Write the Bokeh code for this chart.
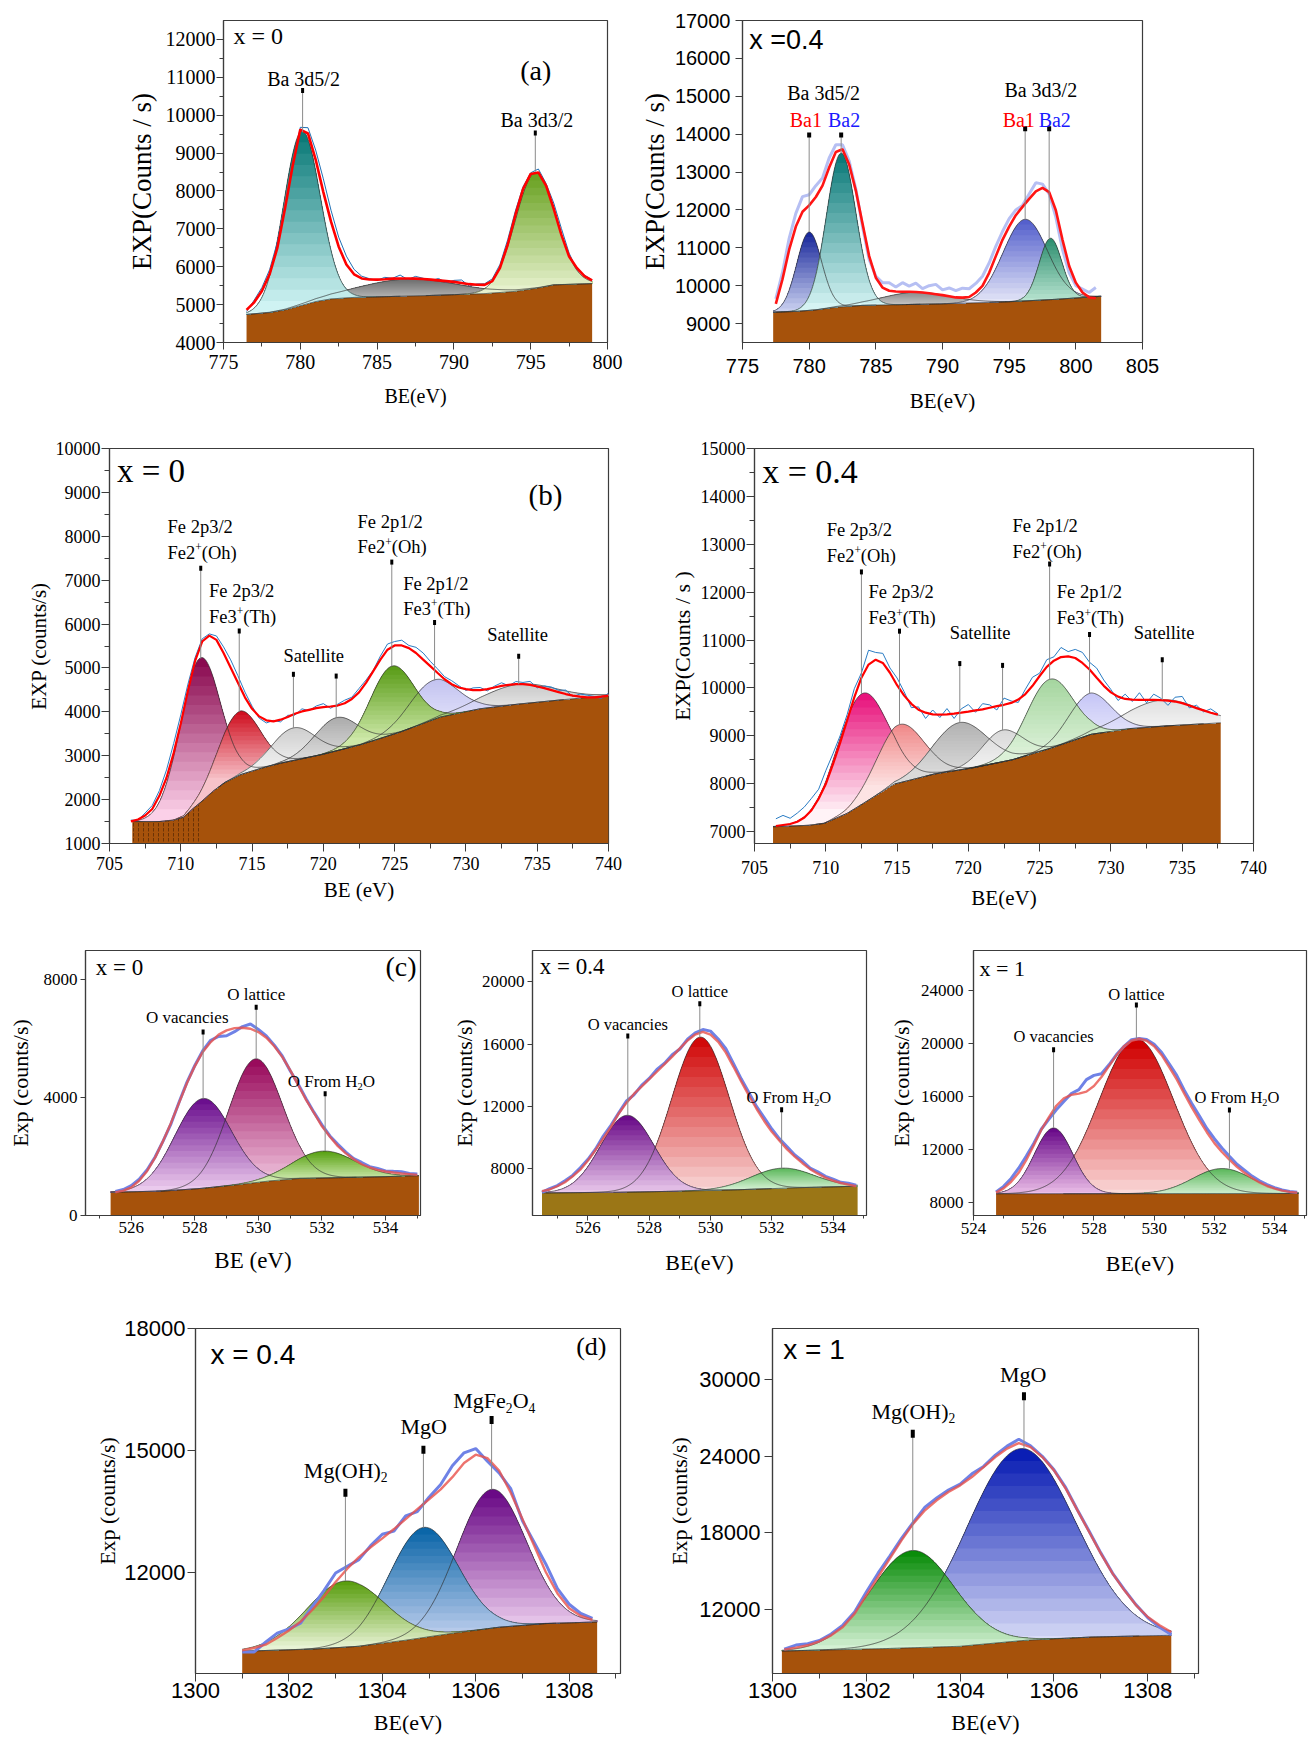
import numpy as np
from bokeh.plotting import figure
from bokeh.models import Range1d, Label, FixedTicker, ColumnDataSource
from bokeh.layouts import row, column
from bokeh.embed import file_html
from bokeh.resources import INLINE

SERIF = "Liberation Serif"
SANS = "Liberation Sans"
BROWN = "#a6520b"

# ======================= DATA =======================
# ---- (a) Ba 3d, x = 0 ----
A1_ENV_START, A1_ENV_STEP = 776.5, 0.5
A1_ENV = [4860, 5060, 5360, 5800, 6490, 7530, 8660, 9620, 9520, 8830, 7970, 7190, 6530, 6060, 5800,
          5690, 5665, 5660, 5670, 5685, 5690, 5690, 5685, 5675, 5660, 5640, 5620, 5600, 5570, 5540,
          5525, 5520, 5620, 5970, 6580, 7360, 8050, 8450, 8490, 8140, 7530, 6840, 6270, 5970, 5750, 5640]
A1_EXP_DEV = [-40, 60, 90, 120, 150, 100, 40, 60, 150, 250, 350, 300, 250, 220, 130, 60, 20, -20, 50, 10,
              90, -30, 60, 20, -30, 50, -40, 40, 80, -50, 20, 30, 60, 90, 130, 110, 60, 30, 90, 60,
              150, 170, 90, -40, 30, 10]
A1_BG_X = [776.5, 778, 779, 780, 781, 782, 783.5, 788, 792, 794, 795.5, 796.5, 799]
A1_BG_Y = [4740, 4790, 4860, 4970, 5080, 5150, 5190, 5235, 5290, 5350, 5440, 5520, 5555]
A1_PEAK_CENTER = [787.0, 780.1, 795.3]
A1_PEAK_HEIGHT = [450, 4600, 3050]
A1_PEAK_FWHM = [7.5, 2.8, 3.1]
A1_TICKS_X = [775, 780, 785, 790, 795, 800]
A1_TICKS_Y = [4000, 5000, 6000, 7000, 8000, 9000, 10000, 11000, 12000]

# ---- (a) Ba 3d, x = 0.4 ----
A2_ENV_START, A2_ENV_STEP = 777.5, 0.5
A2_ENV = [9520, 10170, 10950, 11560, 11950, 12120, 12340, 12640, 13120, 13530, 13600, 13200, 12510, 11640,
          10780, 10210, 9950, 9865, 9845, 9840, 9838, 9835, 9820, 9800, 9775, 9750, 9720, 9690, 9685, 9700,
          9820, 9995, 10340, 10780, 11210, 11560, 11860, 12080, 12290, 12490, 12580, 12470, 11990, 11210,
          10520, 10080, 9820, 9690, 9670]
A2_EXP_DEV = [130, 180, 300, 350, 400, 280, 300, 200, 250, 190, 120, 90, 40, -80, -90, 40, 130, 210, 120, 240,
              150, 230, 100, 200, 260, 140, 220, 180, 250, 220, 240, 255, 260, 260, 220, 210, 140, 40, 130, 230,
              100, -50, -180, -260, -180, -80, 90, 130, 280]
A2_BG_X = [777.3, 779, 780.5, 782, 784, 787, 790, 795, 798.5, 801.9]
A2_BG_Y = [9300, 9320, 9360, 9430, 9480, 9500, 9520, 9575, 9640, 9720]
A2_PEAK_CENTER = [788.0, 780.0, 782.4, 796.2, 798.1]
A2_PEAK_HEIGHT = [320, 2070, 4060, 2155, 1620]
A2_PEAK_FWHM = [6.0, 2.2, 2.6, 3.9, 2.0]
A2_TICKS_X = [775, 780, 785, 790, 795, 800, 805]
A2_TICKS_Y = [9000, 10000, 11000, 12000, 13000, 14000, 15000, 16000, 17000]

# ---- (b) Fe 2p, x = 0 ----
B1_ENV_START, B1_ENV_STEP = 706.5, 0.5
B1_ENV = [1503, 1547, 1637, 1787, 2086, 2498, 3059, 3732, 4480, 5153, 5602, 5736, 5639, 5340, 5003, 4667,
          4330, 4068, 3896, 3807, 3784, 3821, 3881, 3956, 4009, 4046, 4083, 4106, 4121, 4143, 4196, 4293,
          4442, 4667, 4928, 5190, 5415, 5512, 5512, 5452, 5340, 5190, 5041, 4891, 4742, 4630, 4555, 4517,
          4495, 4495, 4517, 4555, 4592, 4614, 4630, 4630, 4614, 4577, 4540, 4495, 4450, 4405, 4368, 4345,
          4330, 4330, 4345, 4368]
B1_EXP_DEV = [30, -20, 60, 80, 120, 180, 220, 200, 150, 80, 60, 40, 90, 140, 180, 160, 120, 60, -40, -60,
              20, -50, 40, -30, 60, -20, 50, 80, -40, 30, 70, 40, 90, 60, 20, 80, 130, 90, 120, 60,
              130, 150, 110, 90, 60, 80, 40, -30, 50, 60, -40, 30, 70, -20, 60, 40, 80, -30, 50, 70,
              40, 90, -20, 60, 50, 20, -40, 60]
B1_BG_X = [706.6, 708.5, 709.5, 710.2, 710.8, 711.4, 712.3, 713.1, 714.2, 715.5, 717, 719.8, 722.6, 725.4,
           728.2, 731, 733.8, 736.6, 740]
B1_BG_Y = [1500, 1500, 1530, 1600, 1780, 1940, 2200, 2390, 2570, 2700, 2830, 3020, 3250, 3540, 3880, 4070,
           4180, 4270, 4370]
B1_PEAK_CENTER = [711.3, 714.1, 717.9, 720.9, 733.7, 727.7, 724.8]
B1_PEAK_HEIGHT = [3300, 1455, 743, 756, 453, 899, 1563]
B1_PEAK_FWHM = [3.3, 3.4, 3.6, 3.6, 6.0, 4.0, 3.6]
B_TICKS_X = [705, 710, 715, 720, 725, 730, 735, 740]
B1_TICKS_Y = [1000, 2000, 3000, 4000, 5000, 6000, 7000, 8000, 9000, 10000]

# ---- (b) Fe 2p, x = 0.4 ----
B2_ENV_START, B2_ENV_STEP = 706.5, 0.5
B2_ENV = [7116, 7137, 7157, 7205, 7294, 7444, 7684, 7991, 8402, 8846, 9324, 9803, 10213, 10487, 10590, 10521,
          10316, 10056, 9838, 9667, 9544, 9482, 9448, 9441, 9448, 9462, 9482, 9503, 9530, 9551, 9585, 9619,
          9647, 9687, 9756, 9872, 10043, 10248, 10439, 10569, 10644, 10658, 10624, 10521, 10385, 10213, 10043,
          9906, 9817, 9769, 9756, 9749, 9749, 9749, 9745, 9735, 9715, 9681, 9633, 9578, 9530, 9482, 9441]
B2_EXP_DEV = [150, 200, 120, 180, 220, 250, 200, 280, 220, 150, 120, 180, 100, 300, 150, 200, 100, 150, 80, -80,
              60, -120, 90, -60, 120, -100, 80, 150, -40, 120, 60, -80, 140, 40, -60, 100, 180, 60, 150, 80,
              200, 100, 180, 220, 150, 200, 120, 60, -80, 100, -40, 150, -60, 120, 40, -100, 90, 140, -50, 60,
              -30, 80, 20]
B2_BG_X = [706.3, 708.8, 709.9, 711.5, 712.6, 714.8, 717.6, 720.3, 723.1, 725.8, 728.6, 731.4, 734.1, 737.7]
B2_BG_Y = [7100, 7130, 7170, 7380, 7580, 7990, 8200, 8330, 8500, 8740, 9030, 9150, 9210, 9270]
B2_PEAK_CENTER = [712.5, 715.2, 719.4, 722.4, 733.6, 728.5, 725.7]
B2_PEAK_HEIGHT = [2310, 1216, 990, 662, 549, 866, 1448]
B2_PEAK_FWHM = [4.2, 3.9, 4.4, 3.3, 6.0, 3.5, 3.8]
B2_TICKS_Y = [7000, 8000, 9000, 10000, 11000, 12000, 13000, 14000, 15000]

# ---- (c) O 1s, x = 0 ----
C1_ENV_START, C1_ENV_STEP = 525.5, 0.25
C1_ENV = [787, 843, 956, 1180, 1515, 1966, 2526, 3145, 3818, 4491, 5074, 5556, 5892, 6141, 6286, 6364, 6377,
          6343, 6229, 6040, 5747, 5387, 4939, 4434, 3929, 3481, 3030, 2673, 2357, 2111, 1909, 1741, 1630,
          1549, 1495, 1461, 1428, 1404, 1380]
C1_EXP_DEV = [30, 40, 60, 50, 40, 20, 0, -30, 20, 30, 20, 40, 60, -60, -180, -120, 40, 160, 90, 60,
              40, 30, -20, 30, 40, 20, 50, 30, 60, 40, 20, 60, 30, 50, 20, 40, 60, 20, 30]
C1_BG_X = [525.35, 527, 528.2, 529.3, 530.4, 531.3, 532.5, 534, 535.05]
C1_BG_Y = [790, 830, 920, 1040, 1178, 1258, 1285, 1320, 1350]
C1_PEAK_CENTER = [529.91, 528.26, 532.06]
C1_PEAK_HEIGHT = [4204, 3047, 913]
C1_PEAK_FWHM = [2.0, 2.1, 2.3]
C1_TICKS_Y = [0, 4000, 8000]

# ---- (c) O 1s, x = 0.4 ----
C2_ENV_START, C2_ENV_STEP = 524.5, 0.25
C2_ENV = [6559, 6667, 6876, 7130, 7511, 7937, 8527, 9206, 9943, 10686, 11530, 12210, 12800, 13270, 13752,
          14222, 14705, 15193, 15720, 16228, 16609, 16781, 16609, 16146, 15447, 14539, 13606, 12698, 11848,
          11066, 10368, 9797, 9245, 8781, 8356, 7975, 7683, 7429, 7238, 7086, 6984, 6876]
C2_EXP_DEV = [-80, 60, 40, 100, 60, 120, 80, 60, 150, 100, 40, 120, -60, 80, 40, 150, 60, 120, -40, 80,
              100, 150, 220, 180, 250, 200, 160, 200, 150, 220, 180, 120, 160, 100, 140, 60, 120, 80, 100, 40,
              80, 60]
C2_BG_X = [524.5, 527, 529, 531, 533, 534.8]
C2_BG_Y = [6450, 6490, 6560, 6660, 6790, 6880]
C2_PEAK_CENTER = [529.67, 527.28, 532.34]
C2_PEAK_HEIGHT = [9850, 4928, 1291]
C2_PEAK_FWHM = [2.2, 2.05, 2.4]
C2_TICKS_Y = [8000, 12000, 16000, 20000]

# ---- (c) O 1s, x = 1 ----
C3_ENV_START, C3_ENV_STEP = 524.75, 0.25
C3_ENV = [8725, 9047, 9548, 10221, 11170, 12292, 13458, 14408, 15283, 15851, 16105, 16202, 16352, 16778,
          17451, 18274, 19096, 19769, 20188, 20337, 20188, 19769, 19096, 18199, 17272, 16202, 15156, 14206,
          13286, 12464, 11791, 11215, 10669, 10221, 9824, 9495, 9226, 9024, 8875, 8778, 8725]
C3_EXP_DEV = [60, 150, 250, 350, 300, 150, 50, -150, -300, -250, 100, 300, 900, 800, 250, 100, 50, 0, 80, 20,
              100, 150, 200, 250, 300, 250, 300, 320, 280, 330, 300, 250, 200, 200, 150, 120, 100, 80, 60, 40, 30]
C3_BG_X = [524.75, 529.5, 534.8]
C3_BG_Y = [8640, 8650, 8660]
C3_PEAK_CENTER = [529.41, 526.66, 532.26]
C3_PEAK_HEIGHT = [11690, 4960, 1890]
C3_PEAK_FWHM = [2.9, 1.5, 2.3]
C3_TICKS_Y = [8000, 12000, 16000, 20000, 24000]
C_TICKS_X = [526, 528, 530, 532, 534]
C3_TICKS_X = [524, 526, 528, 530, 532, 534]

# ---- (d) Mg, x = 0.4 ----
D1_ENV_START, D1_ENV_STEP = 1301.0, 0.25
D1_ENV = [10071, 10129, 10210, 10374, 10560, 10779, 11065, 11390, 11756, 12082, 12366, 12610, 12830, 13059,
          13304, 13548, 13792, 14036, 14337, 14686, 14891, 14808, 14501, 13954, 13304, 12652, 12000, 11473,
          11106, 10918, 10820]
D1_EXP_DEV = [-40, -100, 60, 120, 40, -40, 80, 150, 220, 60, -60, 40, 100, -50, 80, -60, 50, 120, 280, 250,
              150, -80, -60, 100, -40, 80, 200, 120, 100, 60, 40]
D1_BG_X = [1301, 1302.5, 1303.5, 1304.5, 1305.5, 1306.5, 1307.5, 1308.6]
D1_BG_Y = [10050, 10100, 10170, 10320, 10490, 10640, 10730, 10770]
D1_PEAK_CENTER = [1306.34, 1304.88, 1303.21]
D1_PEAK_HEIGHT = [3420, 2714, 1630]
D1_PEAK_FWHM = [1.75, 1.75, 1.96]
D1_TICKS_Y = [12000, 15000, 18000]
D_TICKS_X = [1300, 1302, 1304, 1306, 1308]

# ---- (d) Mg, x = 1 ----
D2_ENV_START, D2_ENV_STEP = 1300.25, 0.25
D2_ENV = [8870, 9027, 9207, 9520, 9989, 10638, 11687, 13119, 14551, 15991, 17423, 18730, 19770, 20553, 21210,
          21726, 22375, 23157, 23940, 24598, 25035, 24722, 23940, 22900, 21468, 19770, 18072, 16382, 14817,
          13510, 12336, 11421, 10770, 10247]
D2_EXP_DEV = [40, 200, 120, 60, 100, 150, 120, 250, 300, 200, 150, 100, 250, 180, 150, 100, 250, 50, 150, 200,
              300, 100, 60, 40, 80, 30, 60, 40, 20, 60, 40, -60, -150, -200]
D2_BG_X = [1300.2, 1302.4, 1304, 1305.4, 1306.8, 1308.5]
D2_BG_Y = [8760, 8950, 9130, 9600, 9856, 9990]
D2_PEAK_CENTER = [1305.29, 1302.99]
D2_PEAK_HEIGHT = [15040, 7610]
D2_PEAK_FWHM = [2.74, 2.1]
D2_TICKS_Y = [12000, 18000, 24000, 30000]

# ======================= helpers =======================
LN2 = np.log(2.0)
LIFT = 0.27  # label baseline correction (fraction of font size)
TIMES_W = {' ': .25, '(': .333, ')': .333, '+': .564, '/': .278, '.': .25, '=': .564,
           'A': .722, 'B': .667, 'C': .667, 'E': .611, 'F': .556, 'H': .722, 'M': .889,
           'O': .722, 'P': .556, 'T': .611, 'V': .722, 'X': .722,
           'a': .444, 'c': .444, 'd': .5, 'e': .444, 'f': .333, 'g': .5, 'h': .5, 'i': .278,
           'l': .278, 'm': .778, 'n': .5, 'o': .5, 'p': .5, 'r': .333, 's': .389, 't': .278,
           'u': .5, 'v': .5, 'x': .5}


def tw(s, size):
    return sum(TIMES_W.get(ch, 0.5) for ch in s) * size


def hx(c):
    return [int(c[i:i + 2], 16) for i in (1, 3, 5)]


def mix(c1, c2, t):
    a, b = hx(c1), hx(c2)
    return "#%02x%02x%02x" % tuple(int(round(a[k] + (b[k] - a[k]) * t)) for k in range(3))


def rich(p, x, y, parts, size, color="black", align="left", font=SERIF):
    segs = []
    for t, m in parts:
        s = size if m == 0 else size * 0.62
        segs.append((t, m, s, tw(t, s)))
    total = sum(sg[3] for sg in segs)
    off = 0.0 if align == "left" else -total / 2.0
    for t, m, s, w in segs:
        dy = 0.0 if m == 0 else (0.40 * size if m > 0 else -0.20 * size)
        dy += LIFT * s
        p.add_layout(Label(x=x, y=y, x_offset=off, y_offset=dy, text=t, text_font=font,
                           text_font_size="%.1fpx" % s, text_color=color,
                           text_baseline="alphabetic", text_align="left"))
        off += w


def component(p, xs, base, c, h, w, ct, cb, n=16):
    m = np.abs(xs - c) <= 2.3 * w
    x = xs[m]
    b = base[m]
    g = h * np.exp(-4 * LN2 * (x - c) ** 2 / w ** 2)
    top = b + g
    lo = np.interp(c, x, b) - 0.04 * h
    hi = top.max()
    data = {"x": x, "b": b}
    for i in range(n + 1):
        lev = hi - (hi - lo) * i / n
        data["y%d" % i] = np.maximum(np.minimum(top, lev), b)
    src = ColumnDataSource(data)
    for i in range(n + 1):
        p.varea(x="x", y1="b", y2="y%d" % i, source=src, fill_color=mix(ct, cb, i / n))
    return x, top


def make_panel(S):
    L, R, T, B = S["b"]
    p = figure(width=S["W"], height=S["H"], x_range=Range1d(*S["xr"]), y_range=Range1d(*S["yr"]),
               min_border_left=L, min_border_right=R, min_border_top=T, min_border_bottom=B,
               title=None, output_backend="svg", toolbar_location=None)
    p.xgrid.visible = False
    p.ygrid.visible = False
    p.outline_line_color = "#3c3c3c"
    p.outline_line_width = 1.2
    p.background_fill_color = "white"
    p.border_fill_color = "white"
    xa, ya = p.xaxis[0], p.yaxis[0]
    xa.ticker = FixedTicker(ticks=S["xt"], minor_ticks=S["xm"])
    ya.ticker = FixedTicker(ticks=S["yt"], minor_ticks=S["ym"])
    for ax in (xa, ya):
        ax.major_label_text_font = S["tf"]
        ax.major_label_text_font_size = "%dpx" % S["ts"]
        ax.major_label_text_color = "black"
        ax.axis_label_text_font = SERIF
        ax.axis_label_text_font_style = "normal"
        ax.axis_label_text_color = "black"
        ax.axis_line_color = "#3c3c3c"
        ax.axis_line_width = 1.2
        ax.major_tick_line_color = "#3c3c3c"
        ax.minor_tick_line_color = "#3c3c3c"
        ax.major_tick_in = 0
        ax.major_tick_out = S["tl"]
        ax.minor_tick_in = 0
        ax.minor_tick_out = S["tl"] // 2 + 1
    xa.axis_label = S["xl"]
    xa.axis_label_text_font_size = "%dpx" % S["xls"]
    ya.axis_label = S["yl"]
    ya.axis_label_text_font_size = "%dpx" % S["yls"]
    xa.major_label_standoff, xa.axis_label_standoff = S["xs"]
    ya.major_label_standoff, ya.axis_label_standoff = S["ys"]

    bx = np.array(S["bg"][0], float)
    by = np.array(S["bg"][1], float)
    xs = np.linspace(bx[0], bx[-1], 500)
    base = np.interp(xs, bx, by)
    y0 = S["yr"][0]
    p.varea(x=xs, y1=np.full(xs.size, y0), y2=base, fill_color=S.get("brown", BROWN))
    if "hatch" in S:
        hm = (xs >= S["hatch"][0]) & (xs <= S["hatch"][1])
        p.varea(x=xs[hm], y1=np.full(int(hm.sum()), y0), y2=base[hm], fill_alpha=0,
                hatch_pattern="vertical_dash", hatch_color="#3a1a02", hatch_alpha=0.55,
                hatch_scale=5, hatch_weight=1)
    outs = []
    for c, h, w, (ct, cb) in zip(S["pk"][0], S["pk"][1], S["pk"][2], S["colors"]):
        outs.append(component(p, xs, base, c, h, w, ct, cb))
    for x, top in outs:
        p.line(x, top, line_color="#303030", line_width=0.7)
    p.line(xs, base, line_color="#303030", line_width=0.8)

    x0, st, env = S["env"]
    env = np.array(env, float)
    ex = x0 + st * np.arange(env.size)
    dev = np.array(S["dev"], float)[:env.size]
    if dev.size < env.size:
        dev = np.pad(dev, (0, env.size - dev.size))
    ec, ew = S["exp_style"]
    p.line(ex, env + dev, line_color=ec, line_width=ew)
    rc, rw, ra = S["env_style"]
    p.line(ex, env, line_color=rc, line_width=rw, line_alpha=ra)

    mk = S["marks"]
    p.segment(x0=[m[0] for m in mk], y0=[m[1] for m in mk], x1=[m[0] for m in mk], y1=[m[2] for m in mk],
              line_color="#8a8a8a", line_width=1.0)
    p.rect(x=[m[0] for m in mk], y=[m[1] for m in mk], width=S["ms"][0], height=S["ms"][1],
           width_units="screen", height_units="screen", fill_color="black", line_color=None)
    for t in S["texts"]:
        x, y, parts, size = t[0], t[1], t[2], t[3]
        kw = t[4] if len(t) > 4 else {}
        if isinstance(parts, str):
            parts = [(parts, 0)]
        rich(p, x, y, parts, size, **kw)
    return p


def odd(a, b, step):
    return list(np.arange(a, b + 1e-9, step))


FE2 = [("Fe2", 0), ("+", 1), ("(Oh)", 0)]
FE3 = [("Fe3", 0), ("+", 1), ("(Th)", 0)]
H2O = [("O From H", 0), ("2", -1), ("O", 0)]
C_EXP = ("#6f82e6", 3.0)
C_ENV = ("#e8504a", 2.4, 0.8)
FS_B = 18.5

A1 = make_panel(dict(
    W=630, H=423, b=(223, 23, 12, 81), xr=(775, 800), yr=(4000, 12500),
    xt=A1_TICKS_X, xm=odd(777.5, 797.5, 5), yt=A1_TICKS_Y, ym=odd(4500, 11500, 1000),
    tf=SERIF, ts=20, tl=7, xl="BE(eV)", xls=20, yl="EXP(Counts / s)", yls=27, xs=(5, 13), ys=(1, 6),
    bg=(A1_BG_X, A1_BG_Y), pk=(A1_PEAK_CENTER, A1_PEAK_HEIGHT, A1_PEAK_FWHM),
    colors=[("#6e6e6e", "#b4b4b4"), ("#0b7a78", "#dcfbfb"), ("#6aa222", "#eef6d8")],
    env=(A1_ENV_START, A1_ENV_STEP, A1_ENV), dev=A1_EXP_DEV,
    exp_style=("#1f6fb4", 1.0), env_style=("#ff0000", 2.6, 1.0),
    marks=[(780.15, 10650, 9550), (795.3, 9530, 8505)], ms=(3, 5),
    texts=[(775.65, 11930, "x = 0", 24), (794.32, 10986, "(a)", 28),
           (780.21, 10824, "Ba 3d5/2", 20, {"align": "center"}),
           (795.40, 9744, "Ba 3d3/2", 20, {"align": "center"})]))

A2 = make_panel(dict(
    W=679, H=423, b=(112, 167, 20, 76), xr=(775, 805), yr=(8500, 17000),
    xt=A2_TICKS_X, xm=[], yt=A2_TICKS_Y, ym=[],
    tf=SANS, ts=20, tl=7, xl="BE(eV)", xls=21, yl="EXP(Counts / s)", yls=27, xs=(9, 13), ys=(5, 2),
    bg=(A2_BG_X, A2_BG_Y), pk=(A2_PEAK_CENTER, A2_PEAK_HEIGHT, A2_PEAK_FWHM),
    colors=[("#8c8c8c", "#c8c8c8"), ("#1b2a9c", "#d5dbf5"), ("#0d7b7a", "#e2fbfb"),
            ("#5560cc", "#eceefa"), ("#2f8f70", "#bfe8d5")],
    env=(A2_ENV_START, A2_ENV_STEP, A2_ENV), dev=A2_EXP_DEV,
    exp_style=("#b6bff3", 3.0), env_style=("#ff1414", 2.6, 1.0),
    marks=[(780.0, 13975, 11415), (782.4, 13975, 13500), (796.2, 14140, 11750), (798.0, 14140, 11250)],
    ms=(4, 5),
    texts=[(775.5, 16282, "x =0.4", 27, {"font": SANS}),
           (781.08, 14937, "Ba 3d5/2", 20, {"align": "center"}),
           (779.75, 14243, "Ba1", 20, {"align": "center", "color": "#ff0000"}),
           (782.62, 14243, "Ba2", 20, {"align": "center", "color": "#1a1aff"}),
           (797.37, 15015, "Ba 3d3/2", 20, {"align": "center"}),
           (795.72, 14235, "Ba1", 20, {"align": "center", "color": "#ff0000"}),
           (798.42, 14235, "Ba2", 20, {"align": "center", "color": "#1a1aff"})]))

B1 = make_panel(dict(
    W=650, H=497, b=(109, 42, 19, 77), xr=(705, 740), yr=(1000, 10000),
    xt=B_TICKS_X, xm=odd(707.5, 737.5, 5), yt=B1_TICKS_Y, ym=odd(1500, 9500, 1000),
    tf=SERIF, ts=18, tl=8, xl="BE (eV)", xls=21, yl="EXP (counts/s)", yls=21, xs=(5, 5), ys=(1, 2),
    bg=(B1_BG_X, B1_BG_Y), pk=(B1_PEAK_CENTER, B1_PEAK_HEIGHT, B1_PEAK_FWHM), hatch=(706.6, 711.4),
    colors=[("#8a0a50", "#fbd0e8"), ("#cf1020", "#f7c3ca"), ("#cfcfcf", "#ededed"), ("#a9a9a9", "#d6d6d6"),
            ("#c9c9c9", "#e3e3e3"), ("#c3c3f0", "#e2e2fa"), ("#5a9c18", "#cde8a8")],
    env=(B1_ENV_START, B1_ENV_STEP, B1_ENV), dev=B1_EXP_DEV,
    exp_style=("#2a7cc4", 1.0), env_style=("#ff0000", 2.2, 1.0),
    marks=[(711.4, 7270, 5213), (714.1, 5840, 4009), (717.9, 4855, 3634), (720.9, 4815, 3866),
           (724.8, 7412, 5041), (727.8, 6035, 4719), (733.7, 5265, 4629)], ms=(3, 5),
    texts=[(705.52, 9282, "x = 0", 33), (734.39, 8766, "(b)", 29),
           (709.07, 8092, "Fe 2p3/2", FS_B), (709.07, 7509, FE2, FS_B),
           (711.98, 6634, "Fe 2p3/2", FS_B), (711.98, 6050, FE3, FS_B),
           (717.2, 5168, "Satellite", FS_B),
           (722.4, 8220, "Fe 2p1/2", FS_B), (722.4, 7637, FE2, FS_B),
           (725.6, 6797, "Fe 2p1/2", FS_B), (725.6, 6237, FE3, FS_B),
           (731.5, 5640, "Satellite", FS_B)]))

B2 = make_panel(dict(
    W=659, H=497, b=(104, 56, 25, 70), xr=(705, 740), yr=(6750, 15000),
    xt=B_TICKS_X, xm=odd(707.5, 737.5, 5), yt=B2_TICKS_Y, ym=odd(7500, 14500, 1000),
    tf=SERIF, ts=18, tl=8, xl="BE(eV)", xls=21, yl="EXP(Counts / s )", yls=22, xs=(9, 9), ys=(1, 3),
    bg=(B2_BG_X, B2_BG_Y), pk=(B2_PEAK_CENTER, B2_PEAK_HEIGHT, B2_PEAK_FWHM),
    colors=[("#e8137c", "#fff3f7"), ("#f08a8a", "#fde3e3"), ("#b3b3b3", "#dadada"), ("#d9d9d9", "#efefef"),
            ("#e1e1e1", "#f2f2f2"), ("#c6c6f6", "#e6e6fb"), ("#a6d6a0", "#dcf1d8")],
    env=(B2_ENV_START, B2_ENV_STEP, B2_ENV), dev=B2_EXP_DEV,
    exp_style=("#2a7cc4", 1.0), env_style=("#ff0000", 2.2, 1.0),
    marks=[(712.5, 12422, 9872), (715.17, 11185, 9236), (719.4, 10508, 9277), (722.4, 10470, 9119),
           (725.7, 12586, 10179), (728.5, 11116, 9886), (733.6, 10590, 9749)], ms=(3, 5),
    texts=[(705.54, 14330, "x = 0.4", 34),
           (710.06, 13188, "Fe 2p3/2", FS_B), (710.06, 12655, FE2, FS_B),
           (713.0, 11889, "Fe 2p3/2", FS_B), (713.0, 11355, FE3, FS_B),
           (718.7, 11048, "Satellite", FS_B),
           (723.1, 13277, "Fe 2p1/2", FS_B), (723.1, 12744, FE2, FS_B),
           (726.2, 11889, "Fe 2p1/2", FS_B), (726.2, 11355, FE3, FS_B),
           (731.6, 11048, "Satellite", FS_B)]))

C1 = make_panel(dict(
    W=440, H=373, b=(85, 20, 28, 78), xr=(524.56, 535.1), yr=(0, 9000),
    xt=C_TICKS_X, xm=odd(525, 535, 2), yt=C1_TICKS_Y, ym=[],
    tf=SERIF, ts=17, tl=5, xl="BE (eV)", xls=23, yl="Exp (counts/s)", yls=22, xs=(1, 12), ys=(3, 8),
    bg=(C1_BG_X, C1_BG_Y), pk=(C1_PEAK_CENTER, C1_PEAK_HEIGHT, C1_PEAK_FWHM),
    colors=[("#990b5c", "#f7d3e8"), ("#6b0f8e", "#f3d6f3"), ("#58a112", "#cfeab0")],
    env=(C1_ENV_START, C1_ENV_STEP, C1_ENV), dev=C1_EXP_DEV,
    exp_style=C_EXP, env_style=C_ENV,
    marks=[(528.26, 6229, 3973), (529.93, 7071, 5320), (532.1, 4131, 2188)], ms=(3, 5),
    texts=[(524.88, 8215, "x = 0", 23), (534.0, 8193, "(c)", 28),
           (527.76, 6566, "O vacancies", 17, {"align": "center"}),
           (529.93, 7354, "O lattice", 17, {"align": "center"}),
           (530.92, 4401, H2O, 17)]))

C2 = make_panel(dict(
    W=445, H=373, b=(92, 19, 30, 75), xr=(524.19, 535.09), yr=(5000, 22000),
    xt=C_TICKS_X, xm=odd(525, 535, 2), yt=C2_TICKS_Y, ym=[],
    tf=SERIF, ts=17, tl=5, xl="BE(eV)", xls=22, yl="Exp (counts/s)", yls=22, xs=(1, 14), ys=(3, 2),
    bg=(C2_BG_X, C2_BG_Y), pk=(C2_PEAK_CENTER, C2_PEAK_HEIGHT, C2_PEAK_FWHM), brown="#9b7616",
    colors=[("#d10a0a", "#fbe6e6"), ("#6a0a88", "#f2d6f2"), ("#5cb85c", "#d8f2d6")],
    env=(C2_ENV_START, C2_ENV_STEP, C2_ENV), dev=C2_EXP_DEV,
    exp_style=C_EXP, env_style=C_ENV,
    marks=[(527.3, 16508, 11428), (529.65, 18577, 16444), (532.32, 11784, 8038)], ms=(3, 5),
    texts=[(524.43, 20590, "x = 0.4", 23),
           (527.3, 16990, "O vacancies", 16.5, {"align": "center"}),
           (529.65, 19111, "O lattice", 16.5, {"align": "center"}),
           (531.17, 12273, H2O, 16.5)]))

C3 = make_panel(dict(
    W=424, H=373, b=(88, 3, 30, 76), xr=(524.0, 535.06), yr=(7000, 27000),
    xt=C3_TICKS_X, xm=odd(525, 535, 2), yt=C3_TICKS_Y, ym=[],
    tf=SERIF, ts=17, tl=5, xl="BE(eV)", xls=22, yl="Exp (counts/s)", yls=22, xs=(2, 14), ys=(5, 4),
    bg=(C3_BG_X, C3_BG_Y), pk=(C3_PEAK_CENTER, C3_PEAK_HEIGHT, C3_PEAK_FWHM),
    colors=[("#d00000", "#fde9e9"), ("#6a0a8a", "#f4cbee"), ("#5cb85c", "#d8f2d8")],
    env=(C3_ENV_START, C3_ENV_STEP, C3_ENV), dev=C3_EXP_DEV,
    exp_style=C_EXP, env_style=C_ENV,
    marks=[(526.66, 19514, 13608), (529.41, 22879, 20337), (532.5, 14954, 10542)], ms=(3, 5),
    texts=[(524.2, 25175, "x = 1", 22),
           (526.66, 20143, "O vacancies", 16.5, {"align": "center"}),
           (529.41, 23328, "O lattice", 16.5, {"align": "center"}),
           (531.34, 15604, H2O, 16.5)]))

D1 = make_panel(dict(
    W=650, H=447, b=(195, 30, 33, 67), xr=(1300, 1309.1), yr=(9500, 18000),
    xt=D_TICKS_X, xm=odd(1301, 1309, 2), yt=D1_TICKS_Y, ym=[],
    tf=SANS, ts=22, tl=8, xl="BE(eV)", xls=22, yl="Exp (counts/s)", yls=22, xs=(1, 9), ys=(2, 1),
    bg=(D1_BG_X, D1_BG_Y), pk=(D1_PEAK_CENTER, D1_PEAK_HEIGHT, D1_PEAK_FWHM),
    colors=[("#6a0a86", "#f6dcf6"), ("#0b66a8", "#cfd8f4"), ("#5a9e10", "#f2f9e2")],
    env=(D1_ENV_START, D1_ENV_STEP, D1_ENV), dev=D1_EXP_DEV,
    exp_style=C_EXP, env_style=C_ENV,
    marks=[(1303.21, 13953, 11780), (1304.88, 15013, 13099), (1306.34, 15746, 14036)], ms=(4, 8),
    texts=[(1300.32, 17170, "x = 0.4", 28, {"font": SANS}), (1308.15, 17377, "(d)", 26),
           (1302.32, 14361, [("Mg(OH)", 0), ("2", -1)], 22),
           (1304.39, 15443, "MgO", 22),
           (1305.52, 16071, [("MgFe", 0), ("2", -1), ("O", 0), ("4", -1)], 22)]))

D2 = make_panel(dict(
    W=659, H=447, b=(122, 111, 35, 66), xr=(1300, 1309.08), yr=(7000, 34000),
    xt=D_TICKS_X, xm=odd(1301, 1309, 2), yt=D2_TICKS_Y, ym=[],
    tf=SANS, ts=22, tl=8, xl="BE(eV)", xls=22, yl="Exp (counts/s)", yls=22, xs=(1, 9), ys=(4, 4),
    bg=(D2_BG_X, D2_BG_Y), pk=(D2_PEAK_CENTER, D2_PEAK_HEIGHT, D2_PEAK_FWHM),
    colors=[("#0a1eb4", "#e6e8fb"), ("#0a8c0a", "#e2f8e2")],
    env=(D2_ENV_START, D2_ENV_STEP, D2_ENV), dev=D2_EXP_DEV,
    exp_style=C_EXP, env_style=C_ENV,
    marks=[(1302.99, 25772, 16640), (1305.36, 28691, 24598)], ms=(4, 8),
    texts=[(1300.23, 31767, "x = 1", 28, {"font": SANS}),
           (1302.11, 27071, [("Mg(OH)", 0), ("2", -1)], 22),
           (1304.85, 29943, "MgO", 22)]))

layout = column(row(A1, A2), row(B1, B2), row(C1, C2, C3), row(D1, D2))
open("out.html", "w").write(file_html(layout, INLINE, title="XPS spectra"))
